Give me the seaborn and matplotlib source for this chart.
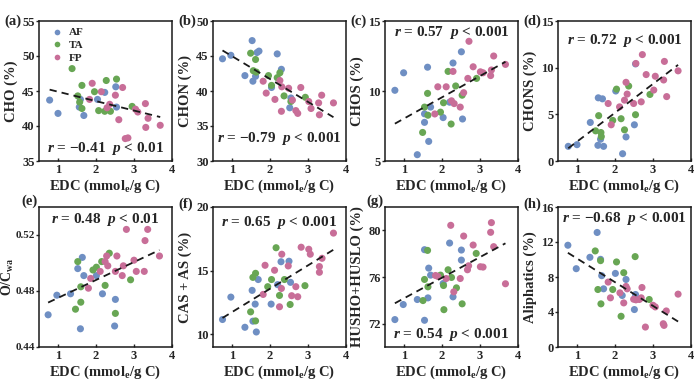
import numpy as np
import pandas as pd
import seaborn as sns
import matplotlib.pyplot as plt

sns.set_theme(style="ticks")
plt.rcParams['font.family'] = ['Liberation Serif', 'DejaVu Serif']
plt.rcParams['font.weight'] = 'bold'
plt.rcParams['axes.labelweight'] = 'bold'
plt.rcParams['mathtext.fontset'] = 'custom'
plt.rcParams['mathtext.rm'] = 'Liberation Serif:bold'
plt.rcParams['mathtext.it'] = 'Liberation Serif:italic:bold'
plt.rcParams['mathtext.bf'] = 'Liberation Serif:bold'

groups = ['AF', 'TA', 'FP']
colors = ['#6f8fc3', '#68a654', '#c86e98']

# (x = EDC, y) pairs, per panel and group
cho_af = [(0.78, 43.7), (1.0, 41.8), (1.56, 42.7), (1.59, 43.8), (1.68, 41.5), (2.04, 43.8),
          (2.23, 44.8), (2.54, 42.7), (2.52, 45.6)]
cho_ta = [(1.37, 48.2), (1.63, 45.8), (1.52, 44.3), (1.57, 43.4), (1.63, 42.5), (1.96, 44.9),
          (2.27, 46.5), (2.54, 46.7), (2.07, 42.2), (2.23, 42.1), (2.38, 42.1), (2.95, 42.8)]
cho_fp = [(1.9, 46.1), (1.83, 43.8), (2.14, 44.9), (2.29, 42.6), (2.36, 43.1), (2.51, 44.4),
          (2.7, 45.5), (2.6, 40.9), (2.77, 38.2), (2.84, 38.3), (3.04, 42.4), (3.1, 42.0),
          (3.3, 43.2), (3.37, 41.1), (3.31, 39.8), (3.69, 40.1)]

chon_af = [(0.75, 44.6), (0.97, 45.1), (1.34, 42.2), (1.53, 47.2), (1.55, 41.4), (1.62, 42.1),
           (1.66, 45.5), (1.71, 45.7), (2.04, 40.5), (2.19, 45.3), (2.3, 43.1), (2.55, 39.0),
           (2.52, 37.6)]
chon_ta = [(1.49, 45.4), (1.62, 44.5), (1.56, 42.9), (1.64, 42.7), (1.96, 42.2), (2.04, 40.8),
           (2.19, 41.9), (2.26, 42.6), (2.37, 39.3), (2.55, 38.5), (2.93, 39.1)]
chon_fp = [(1.82, 41.4), (1.9, 39.7), (2.13, 38.8), (2.26, 41.5), (2.31, 40.6), (2.3, 37.1),
           (2.49, 40.4), (2.59, 38.7), (2.68, 37.2), (2.73, 36.8), (2.81, 40.5), (3.02, 38.5),
           (3.08, 37.5), (3.28, 38.3), (3.3, 36.6), (3.36, 39.4), (3.67, 38.3)]

chos_af = [(0.76, 10.05), (0.99, 11.3), (1.62, 11.7), (1.35, 5.45), (1.54, 8.37), (1.54, 7.76),
           (1.65, 6.4), (1.7, 8.85), (2.03, 8.1), (2.2, 9.2), (2.29, 12.0), (2.51, 12.8),
           (2.54, 8.0)]
chos_ta = [(1.49, 7.04), (1.54, 8.85), (1.62, 9.83), (1.63, 8.27), (1.96, 8.49), (2.04, 9.16),
           (2.16, 11.4), (2.24, 7.64), (2.36, 10.36), (2.53, 9.7), (2.91, 10.9)]
chos_fp = [(1.89, 10.3), (1.81, 8.36), (2.11, 10.3), (2.25, 9.3), (2.29, 11.4), (2.32, 9.1),
           (2.48, 8.85), (2.57, 9.88), (2.68, 10.9), (2.71, 13.55), (2.82, 11.73), (3.01, 11.37),
           (3.08, 11.3), (3.28, 11.1), (3.3, 11.5), (3.36, 12.5), (3.67, 11.9)]

chons_af = [(0.77, 1.57), (1.0, 1.75), (1.35, 4.13), (1.56, 6.77), (1.55, 1.68), (1.62, 2.33),
            (1.67, 6.66), (1.7, 1.57), (2.02, 7.5), (2.2, 0.78), (2.29, 2.58), (2.51, 3.88),
            (2.54, 10.4)]
chons_ta = [(1.49, 3.23), (1.57, 4.86), (1.63, 3.05), (1.64, 2.62), (1.94, 4.35), (2.04, 7.7),
            (2.16, 4.53), (2.25, 3.34), (2.36, 8.03), (2.54, 4.96), (2.92, 7.13)]
chons_fp = [(1.9, 3.88), (1.82, 6.16), (2.12, 5.8), (2.25, 6.52), (2.29, 8.43), (2.32, 7.17),
            (2.49, 6.16), (2.55, 10.45), (2.69, 6.34), (2.72, 11.4), (2.82, 9.26), (3.02, 7.6),
            (3.06, 9.08), (3.28, 8.68), (3.3, 10.67), (3.36, 6.9), (3.66, 9.66)]

oc_af = [(0.74, 0.463), (0.97, 0.477), (1.33, 0.478), (1.52, 0.496), (1.59, 0.453), (1.64, 0.504),
         (1.68, 0.491), (2.01, 0.491), (2.17, 0.478), (2.51, 0.474), (2.49, 0.455)]
oc_ta = [(1.52, 0.501), (1.46, 0.467), (1.6, 0.472), (1.6, 0.483), (1.92, 0.495), (2.01, 0.497),
         (2.15, 0.501), (2.24, 0.484), (2.35, 0.507), (2.51, 0.464), (2.91, 0.488)]
oc_fp = [(1.86, 0.489), (1.8, 0.482), (2.11, 0.494), (2.24, 0.501), (2.28, 0.505), (2.31, 0.498),
         (2.51, 0.494), (2.55, 0.505), (2.69, 0.491), (2.72, 0.498), (2.8, 0.524), (3.0, 0.502),
         (3.06, 0.494), (3.27, 0.494), (3.29, 0.516), (3.36, 0.524), (3.67, 0.505)]

cas_af = [(0.75, 11.16), (0.97, 12.92), (1.34, 10.55), (1.53, 13.45), (1.55, 11.03), (1.61, 12.37),
          (1.64, 10.18), (1.69, 14.3), (2.03, 12.37), (2.2, 13.9), (2.29, 15.7), (2.5, 15.74),
          (2.54, 14.08)]
cas_ta = [(1.49, 11.76), (1.55, 14.47), (1.62, 14.79), (1.62, 11.05), (1.94, 13.74), (2.04, 14.3),
          (2.16, 16.8), (2.25, 13.05), (2.38, 14.3), (2.53, 12.34), (2.92, 13.82)]
cas_fp = [(1.82, 13.13), (1.87, 15.42), (2.12, 15.03), (2.25, 12.16), (2.31, 16.29), (2.3, 13.6),
          (2.48, 15.37), (2.57, 13.03), (2.68, 13.74), (2.73, 12.95), (2.82, 16.84), (3.02, 16.68),
          (3.06, 16.29), (3.3, 15.32), (3.3, 14.87), (3.37, 15.97), (3.67, 17.95)]

hus_af = [(0.76, 72.35), (0.98, 73.64), (1.35, 74.07), (1.54, 78.34), (1.54, 72.29), (1.63, 74.21),
          (1.65, 76.76), (1.7, 76.16), (2.03, 75.44), (2.2, 78.91), (2.29, 74.3), (2.51, 78.31),
          (2.51, 77.45)]
hus_ta = [(1.5, 73.98), (1.54, 75.79), (1.62, 78.28), (1.63, 75.16), (1.96, 76.16), (2.04, 75.27),
          (2.16, 76.62), (2.05, 73.2), (2.25, 75.96), (2.38, 75.07), (2.53, 73.7), (2.9, 78.02)]
hus_fp = [(1.83, 76.13), (1.89, 76.05), (2.11, 75.87), (2.23, 80.43), (2.31, 74.73), (2.48, 75.87),
          (2.57, 79.51), (2.67, 76.62), (2.7, 76.96), (2.82, 78.74), (3.01, 76.88), (3.08, 76.85),
          (3.28, 79.83), (3.3, 80.66), (3.36, 78.6), (3.67, 75.42)]

ali_af = [(0.76, 11.63), (0.98, 8.95), (1.34, 10.25), (1.53, 13.09), (1.62, 10.02), (1.65, 8.15),
          (1.7, 6.65), (2.01, 8.41), (2.19, 5.89), (2.29, 7.72), (2.51, 4.28), (2.54, 6.0)]
ali_ta = [(1.48, 10.98), (1.55, 6.57), (1.62, 9.87), (1.63, 4.93), (1.94, 6.57), (2.04, 9.72),
          (2.16, 3.51), (2.23, 8.49), (2.53, 10.33), (2.9, 5.43)]
ali_fp = [(1.82, 7.42), (1.88, 5.62), (2.13, 6.19), (2.23, 5.04), (2.29, 6.92), (2.32, 6.65),
          (2.49, 5.46), (2.55, 5.39), (2.64, 5.43), (2.69, 5.62), (2.71, 6.8), (2.8, 2.28),
          (3.0, 4.77), (3.06, 4.58), (3.27, 2.66), (3.29, 2.47), (3.35, 4.12), (3.66, 6.04)]

panels = [
    ('(a)', 'CHO (%)', (cho_af, cho_ta, cho_fp), (35, 55), [35, 40, 45, 50, 55], '%d',
     '$r$ = \u22120.41  $p$ < 0.01', 0.09),
    ('(b)', 'CHON (%)', (chon_af, chon_ta, chon_fp), (30, 50), [30, 35, 40, 45, 50], '%d',
     '$r$ = \u22120.79  $p$ < 0.001', 0.16),
    ('(c)', 'CHOS (%)', (chos_af, chos_ta, chos_fp), (5, 15), [5, 10, 15], '%d',
     '$r$ = 0.57  $p$ < 0.001', 0.92),
    ('(d)', 'CHONS (%)', (chons_af, chons_ta, chons_fp), (0, 15), [0, 5, 10, 15], '%d',
     '$r$ = 0.72  $p$ < 0.001', 0.86),
    ('(e)', r'O/C$_{\mathrm{wa}}$', (oc_af, oc_ta, oc_fp), (0.44, 0.54), [0.44, 0.48, 0.52], '%.2f',
     '$r$ = 0.48  $p$ < 0.01', 0.91),
    ('(f)', 'CAS + AS (%)', (cas_af, cas_ta, cas_fp), (9, 20), [10, 15, 20], '%d',
     '$r$ = 0.65  $p$ < 0.001', 0.89),
    ('(g)', 'HUSHO+HUSLO (%)', (hus_af, hus_ta, hus_fp), (70, 82), [72, 76, 80], '%d',
     '$r$ = 0.54  $p$ < 0.001', 0.09),
    ('(h)', 'Aliphatics (%)', (ali_af, ali_ta, ali_fp), (0, 16), [0, 4, 8, 12, 16], '%d',
     '$r$ = \u22120.68  $p$ < 0.001', 0.92),
]

fig = plt.figure(figsize=(7, 3.83), dpi=100)
lefts = [39 / 700, 213 / 700, 385 / 700, 558 / 700]
bottoms = [1 - 161 / 383, 1 - 347 / 383]
w, h = 133 / 700, 140 / 383

for i, (tag, ylab, sets, ylim, yticks, fmt, note, ny) in enumerate(panels):
    row, col = divmod(i, 4)
    ax = fig.add_axes([lefts[col], bottoms[row], w, h])
    rows = []
    for g, pts in zip(groups, sets):
        for x, y in pts:
            rows.append({'EDC': x, 'val': y, 'grp': g})
    df = pd.DataFrame(rows)
    sns.scatterplot(data=df, x='EDC', y='val', hue='grp', hue_order=groups,
                    palette=colors, s=26, edgecolor='none', ax=ax, legend=(i == 0))
    sns.regplot(data=df, x='EDC', y='val', scatter=False, ci=None, ax=ax,
                line_kws=dict(color='k', lw=1.3, ls=(0, (4, 2.8))))
    ax.set_xlim(0.5, 4)
    ax.set_ylim(*ylim)
    ax.set_xticks([1, 2, 3, 4])
    ax.set_yticks(yticks)
    ax.set_yticklabels([fmt % t for t in yticks])
    ax.tick_params(axis='x', labelsize=9, direction='in', length=2.5, width=1, pad=2)
    ax.tick_params(axis='y', labelsize=8 if i == 4 else 9, direction='out',
                   length=2, width=1, pad=0.7 if i == 4 else 1)
    for s in ax.spines.values():
        s.set_linewidth(1.1)
        s.set_color('k')
    ax.set_xlabel(r'EDC (mmol$_{\mathrm{e}}$/g C)', fontsize=10.5, labelpad=1)
    if i == 4:
        ax.set_ylabel(ylab, fontsize=10)
        ax.yaxis.set_label_coords(-0.17, 0.5)
    else:
        ax.set_ylabel(ylab, fontsize=10.5)
        ax.yaxis.set_label_coords(-0.16, 0.5)
    ax.text(0.5, ny, note, transform=ax.transAxes, ha='center', va='center',
            fontsize=11, fontweight='bold')
    # panel tag: left of the top tick label when that tick sits at the top edge
    if yticks[-1] == ylim[1]:
        ax.text(-0.26, 1.02 if row else 1.0, tag, transform=ax.transAxes,
                ha='left', va='center', fontsize=10.5, fontweight='bold')
    else:
        ax.text(-0.01, 1.04, tag, transform=ax.transAxes, ha='right', va='center',
                fontsize=10.5, fontweight='bold')
    if i == 0:
        ax.legend(loc='upper left', frameon=False, fontsize=8, handletextpad=0.1,
                  borderaxespad=0.2, labelspacing=0.25, markerscale=0.8)

fig.savefig('out.png', dpi=100)
